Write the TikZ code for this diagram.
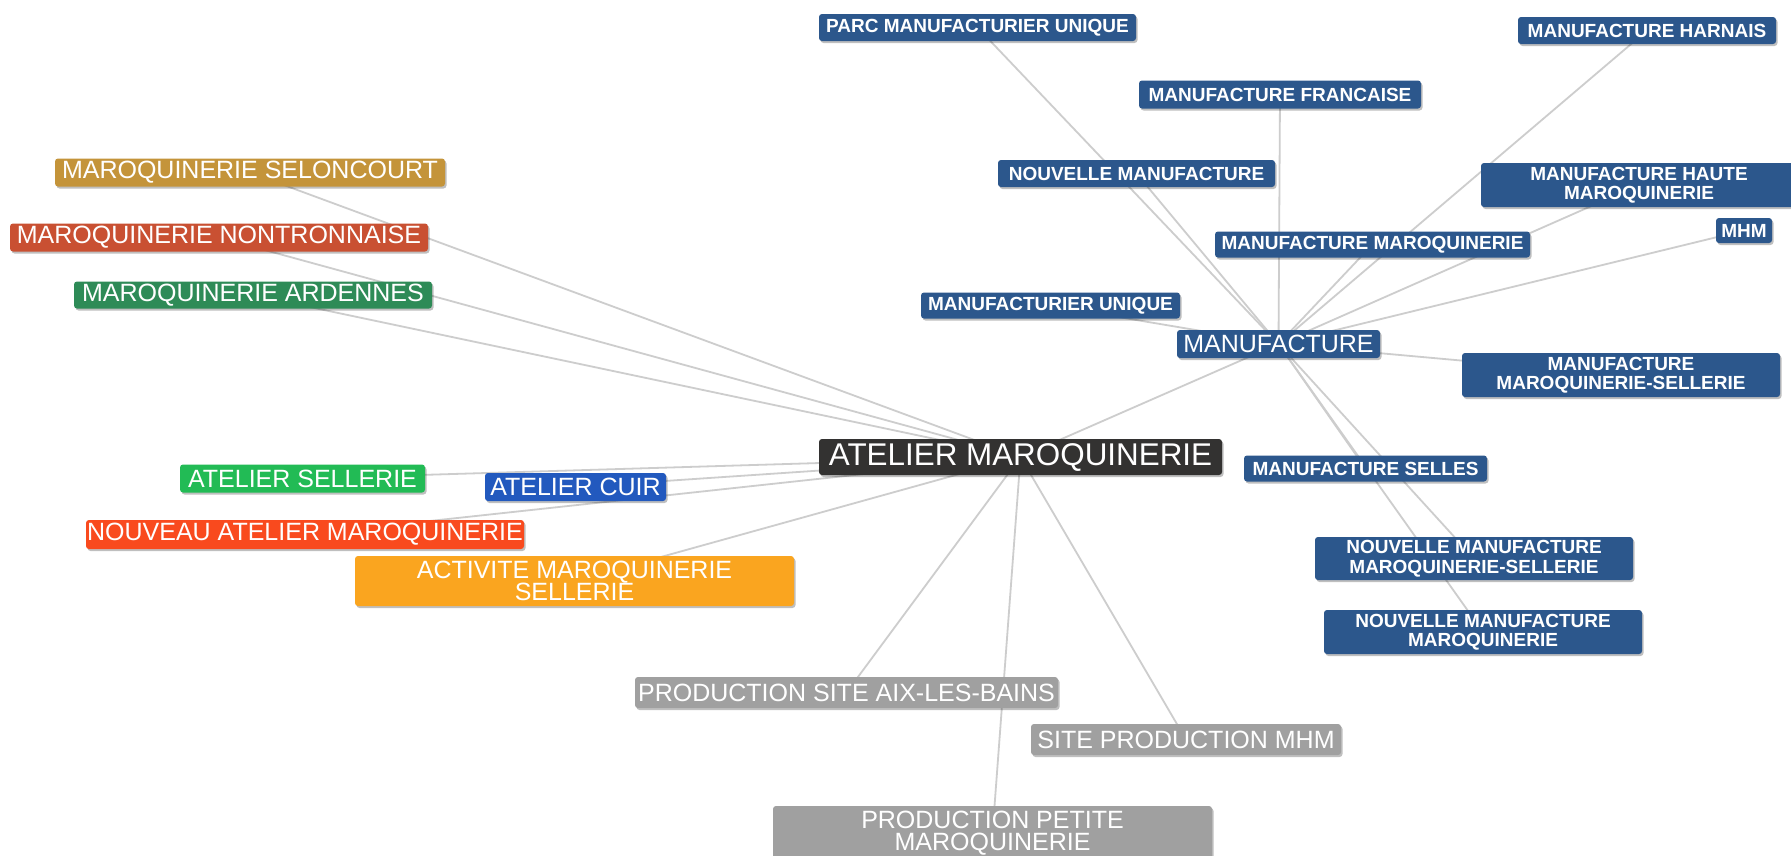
\documentclass[tikz,border=0pt]{standalone}
\usepackage{fontspec}
\setmainfont{Liberation Sans}
\usetikzlibrary{shadows}
\pgfdeclarelayer{back}
\pgfdeclarelayer{bg}
\pgfsetlayers{back,bg,main}
\definecolor{mblue}{HTML}{2C578C}
\definecolor{mdark}{HTML}{333231}
\definecolor{mgold}{HTML}{C4943A}
\definecolor{mbrick}{HTML}{C95032}
\definecolor{mseagreen}{HTML}{2E8B57}
\definecolor{mgreen}{HTML}{22BB55}
\definecolor{mcuir}{HTML}{2259BE}
\definecolor{mred}{HTML}{F94A1E}
\definecolor{morange}{HTML}{FAA51F}
\definecolor{mgrey}{HTML}{A0A0A0}
\definecolor{linkgray}{HTML}{CDCDCD}
\tikzset{
  box/.style={rectangle, rounded corners=3pt, inner sep=0pt, text=white, align=center,
    drop shadow={shadow xshift=1.5pt, shadow yshift=-2pt, opacity=0.25, fill=black}},
  bluebox/.style={box, fill=mblue, font=\bfseries\fontsize{19}{19.5}\selectfont},
  bigbox/.style={box, font=\fontsize{25}{22.5}\selectfont},
  link/.style={draw=linkgray, line width=1.8pt},
}
\begin{document}
\begin{tikzpicture}[x=1pt, y=-1pt]
\begin{pgfonlayer}{back}
\fill[white] (0,0) rectangle (1791,855);
\end{pgfonlayer}
\useasboundingbox (0,0) rectangle (1791,855);
% central node
\node[box, fill=mdark, font=\fontsize{31.4}{34}\selectfont, minimum width=403pt, minimum height=36pt] (center) at (1020.5,457) {ATELIER MAROQUINERIE};
% hub
\node[bigbox, fill=mblue, minimum width=203pt, minimum height=28pt] (manuf) at (1278.5,344) {MANUFACTURE};
% left colored
\node[bigbox, fill=mgold, minimum width=390pt, minimum height=28pt] (selon) at (250,172.5) {MAROQUINERIE SELONCOURT};
\node[bigbox, fill=mbrick, minimum width=418pt, minimum height=28pt] (nontron) at (219,237.5) {MAROQUINERIE NONTRONNAISE};
\node[bigbox, fill=mseagreen, minimum width=358pt, minimum height=27pt] (ardennes) at (253,295) {MAROQUINERIE ARDENNES};
\node[bigbox, fill=mgreen, minimum width=245pt, minimum height=28pt] (asellerie) at (302.5,478.5) {ATELIER SELLERIE};
\node[bigbox, fill=mcuir, minimum width=181pt, minimum height=28pt] (acuir) at (575.5,487) {ATELIER CUIR};
\node[bigbox, fill=mred, minimum width=438pt, minimum height=29pt] (nouveau) at (305,534.5) {NOUVEAU ATELIER MAROQUINERIE};
\node[bigbox, fill=morange, minimum width=439pt, minimum height=50pt] (activite) at (574.5,581) {ACTIVITE MAROQUINERIE\\SELLERIE};
% bottom grey
\node[bigbox, fill=mgrey, minimum width=423pt, minimum height=31pt] (aix) at (846.5,692.5) {PRODUCTION SITE AIX-LES-BAINS};
\node[bigbox, fill=mgrey, minimum width=310pt, minimum height=31pt] (sitemhm) at (1186,739.5) {SITE PRODUCTION MHM};
\node[bigbox, fill=mgrey, minimum width=439pt, minimum height=54pt] (petite) at (992.5,833) {PRODUCTION PETITE\\MAROQUINERIE};
% blue leaves
\node[bluebox, minimum width=317pt, minimum height=27pt] (parc) at (977.5,27.5) {PARC MANUFACTURIER UNIQUE};
\node[bluebox, minimum width=258pt, minimum height=27pt] (harnais) at (1647,30.5) {MANUFACTURE HARNAIS};
\node[bluebox, minimum width=282pt, minimum height=28pt] (francaise) at (1280,94.5) {MANUFACTURE FRANCAISE};
\node[bluebox, minimum width=277pt, minimum height=27pt] (nouvelle) at (1136.5,173.5) {NOUVELLE MANUFACTURE};
\node[bluebox, minimum width=316pt, minimum height=44pt] (haute) at (1639,185) {MANUFACTURE HAUTE\\MAROQUINERIE};
\node[bluebox, minimum width=56pt, minimum height=25pt] (mhm) at (1744,230.5) {MHM};
\node[bluebox, minimum width=315pt, minimum height=26pt] (mmaroq) at (1372.5,244.5) {MANUFACTURE MAROQUINERIE};
\node[bluebox, minimum width=259pt, minimum height=26pt] (munique) at (1050.5,305.5) {MANUFACTURIER UNIQUE};
\node[bluebox, minimum width=318pt, minimum height=44pt] (mms) at (1621,375) {MANUFACTURE\\MAROQUINERIE-SELLERIE};
\node[bluebox, minimum width=243pt, minimum height=26pt] (selles) at (1365.5,468.5) {MANUFACTURE SELLES};
\node[bluebox, minimum width=318pt, minimum height=43pt] (nmms) at (1474,558.5) {NOUVELLE MANUFACTURE\\MAROQUINERIE-SELLERIE};
\node[bluebox, minimum width=318pt, minimum height=44pt] (nmm) at (1483,632) {NOUVELLE MANUFACTURE\\MAROQUINERIE};
% connectors
\begin{pgfonlayer}{bg}
\foreach \a in {selon,nontron,ardennes,asellerie,acuir,nouveau,activite,aix,petite,sitemhm,manuf}
  \draw[link] (center.center) -- (\a.center);
\foreach \a in {parc,harnais,francaise,nouvelle,haute,mhm,mmaroq,munique,mms,selles,nmms,nmm}
  \draw[link] (manuf.center) -- (\a.center);
\end{pgfonlayer}
\end{tikzpicture}
\end{document}
